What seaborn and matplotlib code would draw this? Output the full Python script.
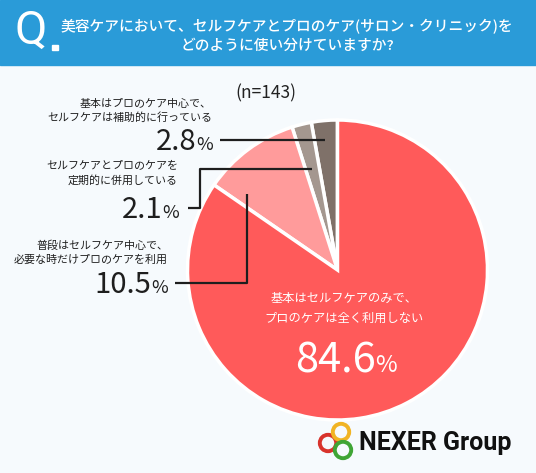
import matplotlib
matplotlib.use("Agg")
import matplotlib.pyplot as plt
import seaborn as sns
from matplotlib.patches import Rectangle, Circle

# data
labels = [
    "基本はプロのケア中心で、\nセルフケアは補助的に行っている",
    "セルフケアとプロのケアを\n定期的に併用している",
    "普段はセルフケア中心で、\n必要な時だけプロのケアを利用",
    "基本はセルフケアのみで、\nプロのケアは全く利用しない",
]
values = [2.8, 2.1, 10.5, 84.6]
value_text = ["2.8", "2.1", "10.5", "84.6"]
colors = ["#7f7169", "#a4978f", "#ff9b9b", "#ff5a5a"]
title = "美容ケアにおいて、セルフケアとプロのケア(サロン・クリニック)を\nどのように使い分けていますか?"
n_text = "(n=143)"

sns.set_theme(style="white")
plt.rcParams['font.family'] = ['Noto Sans CJK JP', 'DejaVu Sans']

W, H = 536, 473
bg = "#f6fafd"
fig = plt.figure(figsize=(W / 100, H / 100), dpi=100, facecolor=bg)

# pie axes, center (337.5, 270), radius 150 px
cx, cy, r = 337.5, 270, 150
pax = fig.add_axes([(cx - r) / W, (H - cy - r) / H, 2 * r / W, 2 * r / H])
pax.pie(values, colors=colors, startangle=90, counterclock=True,
        wedgeprops=dict(edgecolor="white", linewidth=2.5))
pax.set_xlim(-1, 1)
pax.set_ylim(-1, 1)
pax.axis("off")

# overlay in pixel coordinates
ax = fig.add_axes([0, 0, 1, 1], facecolor="none")
ax.set_xlim(0, W)
ax.set_ylim(H, 0)
ax.axis("off")
fig.canvas.draw()
renderer = fig.canvas.get_renderer()

# header
ax.add_patch(Rectangle((0, 0), W, 65, color="#2a9bd8", zorder=0))
ax.text(31, 31, "Q", color="white", fontsize=34, fontweight="normal",
        ha="center", va="center", family=["Roboto", "DejaVu Sans"])
ax.add_patch(Rectangle((52, 45), 5.5, 5.5, color="white"))
ax.text(287, 36, title, color="white", fontsize=10.6, fontweight="medium",
        ha="center", va="center", linespacing=1.5)

ax.text(266, 93, n_text, color="#222222", fontsize=12.5, ha="center", va="center")


def pct(x, y, num, ha, color, size, psize):
    # number with a smaller % sign; x is right edge or center
    p = ax.text(0, 0, "%", fontsize=psize, color=color, va="baseline")
    t = ax.text(0, 0, num, fontsize=size, color=color, va="baseline")
    pw = p.get_window_extent(renderer).width
    tw = t.get_window_extent(renderer).width
    right = x if ha == "right" else x + (pw + tw) / 2
    p.set_position((right - pw, y))
    t.set_position((right - pw - tw, y))


dark = "#1e1e1e"
small = 7.9
# label text (right aligned)
ax.text(212, 111, labels[0], fontsize=small, color=dark, ha="right", va="center",
        linespacing=1.45)
pct(213, 150, value_text[0], "right", dark, 21, 13)
ax.text(178, 173, labels[1], fontsize=small, color=dark, ha="right", va="center",
        linespacing=1.45)
pct(179, 218, value_text[1], "right", dark, 21, 13)
ax.text(168, 253, labels[2], fontsize=small, color=dark, ha="right", va="center",
        linespacing=1.45)
pct(168, 293, value_text[2], "right", dark, 21, 13)

ax.text(344, 308, labels[3], fontsize=8.8, color="white", ha="center", va="center",
        linespacing=1.7)
pct(346, 372, value_text[3], "center", "white", 30, 17)

# leader lines
lk = dict(color="#1e1e1e", lw=1.6, solid_capstyle="butt")
ax.plot([220, 325], [140, 140], **lk)
ax.plot([188, 200, 200, 312], [208, 208, 169, 169], **lk)
ax.plot([175, 247, 247], [283, 283, 194], **lk)

# logo
for (x, y), c in zip([(328, 443), (341, 432), (343, 450)],
                     ["#d8332c", "#f1b424", "#3fa535"]):
    ax.add_patch(Circle((x, y), 8.2, fill=False, edgecolor=c, lw=2.8))
ax.text(359, 443, "NEXER Group", fontsize=18, fontweight="bold", color="#111111",
        ha="left", va="center", family=["Roboto", "DejaVu Sans"])

fig.savefig("out.png", dpi=100, facecolor=bg)
